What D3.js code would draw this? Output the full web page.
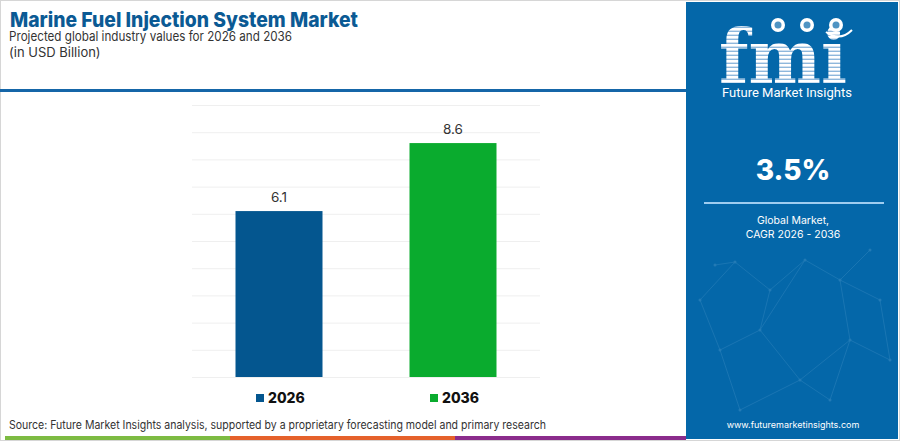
<!DOCTYPE html>
<html>
<head>
<meta charset="utf-8">
<script src="https://cdn.jsdelivr.net/npm/d3@7"></script>
<style>
  body { margin: 0; background: #fff; }
  svg { display: block; font-family: Inter, "Noto Sans", sans-serif; }
</style>
</head>
<body>
<svg id="chart"></svg>
<script>
var years = ["2026", "2036"];
var values = [6.1, 8.6];
var barColors = ["#04568f", "#0aab2e"];
var yTicks = [0, 1, 2, 3, 4, 5, 6, 7, 8, 9, 10];
var cagr = "3.5%";

var width = 900, height = 441;
var svg = d3.select("#chart").attr("width", width).attr("height", height);

// page frame
svg.append("rect").attr("x", 0.5).attr("y", 0.5).attr("width", width - 1).attr("height", height - 1)
  .attr("fill", "#fff").attr("stroke", "#d6d6d6");

// header
svg.append("text").attr("x", 10).attr("y", 27)
  .attr("font-size", 20.5).attr("font-weight", 800).attr("fill", "#0b5a94")
  .attr("textLength", 348).attr("lengthAdjust", "spacingAndGlyphs")
  .text("Marine Fuel Injection System Market");
svg.append("text").attr("x", 9).attr("y", 41)
  .attr("font-size", 13).attr("fill", "#333")
  .attr("textLength", 283).attr("lengthAdjust", "spacingAndGlyphs")
  .text("Projected global industry values for 2026 and 2036");
svg.append("text").attr("x", 9).attr("y", 57)
  .attr("font-size", 13).attr("fill", "#333")
  .text("(in USD Billion)");
svg.append("rect").attr("x", 0).attr("y", 89).attr("width", 686).attr("height", 3).attr("fill", "#1566a8");

// chart area
var x = d3.scaleBand().domain(years).range([192, 540]).paddingInner(0.5).paddingOuter(0.25);
var y = d3.scaleLinear().domain([0, 10]).range([377, 105]);

svg.append("g").selectAll("line").data(yTicks).enter().append("line")
  .attr("x1", 192).attr("x2", 540)
  .attr("y1", function(d){ return y(d) + 0.5; })
  .attr("y2", function(d){ return y(d) + 0.5; })
  .attr("stroke", "#efefef").attr("stroke-width", 1);

svg.append("g").selectAll("rect").data(values).enter().append("rect")
  .attr("x", function(d, i){ return x(years[i]); })
  .attr("width", x.bandwidth())
  .attr("y", function(d){ return y(d); })
  .attr("height", function(d){ return y(0) - y(d); })
  .attr("fill", function(d, i){ return barColors[i]; });

svg.append("g").selectAll("text").data(values).enter().append("text")
  .attr("x", function(d, i){ return x(years[i]) + x.bandwidth() / 2; })
  .attr("y", function(d){ return y(d) - 9; })
  .attr("text-anchor", "middle").attr("font-size", 13.5).attr("fill", "#333")
  .text(function(d){ return d.toFixed(1); });

// legend
var legend = svg.append("g").selectAll("g").data(years).enter().append("g")
  .attr("transform", function(d){ return "translate(" + (x(d) + x.bandwidth() / 2 - 20) + ",0)"; });
legend.append("rect").attr("x", -3).attr("y", 394).attr("width", 8).attr("height", 8)
  .attr("fill", function(d, i){ return barColors[i]; });
legend.append("text").attr("x", 9).attr("y", 403)
  .attr("font-size", 14).attr("font-weight", 800).attr("fill", "#111")
  .text(function(d){ return d; });

// source + colour strip
svg.append("text").attr("x", 9).attr("y", 429).attr("font-size", 11.5).attr("fill", "#333")
  .attr("textLength", 537).attr("lengthAdjust", "spacingAndGlyphs")
  .text("Source: Future Market Insights analysis, supported by a proprietary forecasting model and primary research");
var strip = [[5, 230, "#7dbb42"], [230, 455, "#e5612b"], [455, 686, "#8b2c8c"]];
svg.append("g").selectAll("rect").data(strip).enter().append("rect")
  .attr("x", function(d){ return d[0]; }).attr("y", 436)
  .attr("width", function(d){ return d[1] - d[0]; }).attr("height", 4)
  .attr("fill", function(d){ return d[2]; });

// right panel
var px = 686;
svg.append("rect").attr("x", px).attr("y", 2).attr("width", width - px - 2).attr("height", height - 4).attr("fill", "#0467a9");

// faint network decoration
var net = [[700,300],[735,262],[770,290],[805,260],[840,280],[880,300],[720,350],[760,330],[800,380],[850,340],[890,360],[740,410],[830,400],[870,250],[715,265]];
var links = [[0,1],[1,2],[2,3],[3,4],[4,5],[0,6],[6,7],[7,2],[7,8],[8,9],[9,4],[9,10],[6,11],[11,8],[8,12],[12,9],[4,13],[1,14],[3,7],[5,10]];
var ng = svg.append("g").attr("opacity", 0.14);
ng.selectAll("line").data(links).enter().append("line")
  .attr("x1", function(d){ return net[d[0]][0]; }).attr("y1", function(d){ return net[d[0]][1]; })
  .attr("x2", function(d){ return net[d[1]][0]; }).attr("y2", function(d){ return net[d[1]][1]; })
  .attr("stroke", "#bfe3ff").attr("stroke-width", 0.8);
ng.selectAll("circle").data(net).enter().append("circle")
  .attr("cx", function(d){ return d[0]; }).attr("cy", function(d){ return d[1]; }).attr("r", 1.5)
  .attr("fill", "#d6efff");

// logo
var defs = svg.append("defs");
var pat = defs.append("pattern").attr("id", "stripes").attr("patternUnits", "userSpaceOnUse")
  .attr("width", 10).attr("height", 4);
pat.append("rect").attr("width", 10).attr("height", 4).attr("fill", "#ffffff");
pat.append("rect").attr("y", 2.6).attr("width", 10).attr("height", 1.4).attr("fill", "#8fb8dc");
svg.append("text").attr("x", 719).attr("y", 83)
  .attr("font-family", "'DejaVu Serif', serif").attr("font-size", 74).attr("font-weight", 700)
  .attr("fill", "url(#stripes)")
  .attr("textLength", 128).attr("lengthAdjust", "spacingAndGlyphs")
  .text("fmi");
[778, 807, 836].forEach(function(cx){
  svg.append("circle").attr("cx", cx).attr("cy", 25).attr("r", 7).attr("fill", "#fff");
  svg.append("circle").attr("cx", cx).attr("cy", 25).attr("r", 3.5).attr("fill", "#0467a9").attr("opacity", 0.7);
});
svg.append("path").attr("d", "M826,32 Q840,42 852,30").attr("fill", "none").attr("stroke", "#fff").attr("stroke-width", 2);
svg.append("text").attr("x", 722).attr("y", 97).attr("font-size", 12.5).attr("fill", "#fff")
  .attr("font-family", "'Liberation Sans Narrow', 'Roboto', sans-serif")
  .attr("textLength", 130).attr("lengthAdjust", "spacingAndGlyphs")
  .text("Future Market Insights");

var cx = 793;
svg.append("text").attr("x", cx).attr("y", 180).attr("text-anchor", "middle")
  .attr("font-size", 28).attr("font-weight", 800).attr("fill", "#fff").text(cagr);
svg.append("rect").attr("x", 704).attr("y", 202).attr("width", 180).attr("height", 2).attr("fill", "#9fcdf0");
svg.append("text").attr("x", cx).attr("y", 224).attr("text-anchor", "middle")
  .attr("font-size", 10.5).attr("fill", "#fff").text("Global Market,");
svg.append("text").attr("x", cx).attr("y", 238).attr("text-anchor", "middle")
  .attr("font-size", 10.5).attr("fill", "#fff").text("CAGR 2026 - 2036");
svg.append("text").attr("x", cx).attr("y", 428).attr("text-anchor", "middle")
  .attr("font-size", 9).attr("fill", "#fff").text("www.futuremarketinsights.com");
</script>
</body>
</html>
